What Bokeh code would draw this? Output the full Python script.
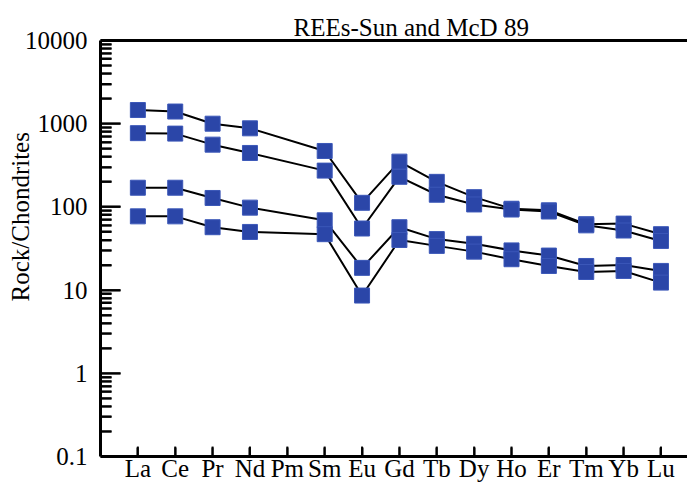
from bokeh.plotting import figure
from bokeh.models import (FixedTicker, CustomJSTickFormatter, LinearAxis, Title,
                          ColumnDataSource, Range1d)
from bokeh.embed import file_html
from bokeh.resources import INLINE

# ---- data ----
elements = ["La", "Ce", "Pr", "Nd", "Pm", "Sm", "Eu", "Gd", "Tb", "Dy", "Ho", "Er", "Tm", "Yb", "Lu"]
measured = ["La", "Ce", "Pr", "Nd", "Sm", "Eu", "Gd", "Tb", "Dy", "Ho", "Er", "Tm", "Yb", "Lu"]

sample_1 = [1460, 1400, 1000, 880, 470, 112, 350, 200, 131, 95, 91, 62, 63, 47]
sample_2 = [770, 760, 560, 445, 273, 55, 230, 140, 107, 93, 88, 60, 52, 39]
sample_3 = [170, 170, 128, 98, 69, 18.5, 57, 41, 36, 30, 26, 19.5, 20, 17]
sample_4 = [77, 77, 57, 50, 47, 8.6, 40, 34, 29, 23.5, 19.5, 16.5, 17, 12.3]
samples = [sample_1, sample_2, sample_3, sample_4]

y_ticks = [0.1, 1, 10, 100, 1000, 10000]
y_minor = [k * 10 ** d for d in range(-1, 4) for k in range(2, 10)]
title_text = "REEs-Sun and McD 89"
y_title = "Rock/Chondrites"

FONT = "Liberation Serif"
MARK = "#2B46A8"

# ---- layout constants ----
W, H = 687, 484
LEFT, TOP, BOTTOM = 100, 40, 26
FRAME_W, FRAME_H = W - LEFT, H - TOP - BOTTOM
X0, X1 = 0, 15.71
Y0, Y1 = 0.1, 10000

x_pos = [elements.index(e) + 1 for e in measured]
x_ticks = list(range(1, len(elements) + 1))

px_x = FRAME_W / (X1 - X0)                  # px per x unit
dec_px = 5 / FRAME_H                        # log10 span per px


def xpx(n):            # n pixels to the right of the left frame edge, in data units
    return X0 + n / px_x


def ypx(n):            # n pixels above the bottom frame edge, in data units
    return Y0 * 10 ** (n * dec_px)


y_major_in = [v for v in y_ticks if Y0 < v < Y1]
y_minor_in = [v for v in y_minor if Y0 < v < Y1]

p = figure(width=W, height=H, y_axis_type="log",
           x_range=Range1d(X0, X1), y_range=Range1d(Y0, Y1),
           output_backend="svg", toolbar_location=None,
           min_border_left=LEFT, min_border_right=0, min_border_top=TOP,
           min_border_bottom=BOTTOM)
p.outline_line_color = None
p.xgrid.visible = False
p.ygrid.visible = False
p.background_fill_color = "white"
p.border_fill_color = "white"

for s in samples:
    src = ColumnDataSource(dict(x=x_pos, y=s))
    p.line("x", "y", source=src, line_color="black", line_width=2)
for s in samples:
    src = ColumnDataSource(dict(x=x_pos, y=s))
    p.scatter("x", "y", source=src, marker="square", size=15,
              fill_color=MARK, line_color="#3B57B8", line_width=1)

# inward tick marks, drawn on top of everything
tick_sets = [
    (dict(x0=[xpx(1)] * len(y_major_in), y0=y_major_in,
          x1=[xpx(20)] * len(y_major_in), y1=y_major_in)),
    (dict(x0=[xpx(1)] * len(y_minor_in), y0=y_minor_in,
          x1=[xpx(11)] * len(y_minor_in), y1=y_minor_in)),
    (dict(x0=x_ticks, y0=[ypx(1)] * len(x_ticks),
          x1=x_ticks, y1=[ypx(10)] * len(x_ticks))),
]
for d in tick_sets:
    p.segment(x0="x0", y0="y0", x1="x1", y1="y1", source=ColumnDataSource(d),
              line_color="black", line_width=2, level="overlay")

# x axis
xa = p.xaxis[0]
xa.ticker = FixedTicker(ticks=x_ticks)
xa.major_label_overrides = {i + 1: e for i, e in enumerate(elements)}
xa.major_tick_in = 9
xa.major_tick_out = 0
xa.major_tick_line_color = "black"
xa.major_tick_line_width = 2
xa.minor_tick_line_color = None
xa.axis_line_width = 3
xa.major_label_standoff = -2
xa.major_label_text_font = FONT
xa.major_label_text_font_size = "25px"
xa.major_label_text_color = "black"

# y axis
ya = p.yaxis[0]
ya.ticker = FixedTicker(ticks=y_ticks, minor_ticks=y_minor)
ya.formatter = CustomJSTickFormatter(code="return String(tick)")
ya.major_tick_in = 20
ya.major_tick_out = 0
ya.minor_tick_in = 11
ya.minor_tick_out = 0
ya.major_tick_line_color = "black"
ya.minor_tick_line_color = "black"
ya.major_tick_line_width = 2
ya.minor_tick_line_width = 2
ya.axis_line_width = 3
ya.major_label_standoff = 13
ya.major_label_text_font = FONT
ya.major_label_text_font_size = "25px"
ya.major_label_text_color = "black"

# top border line
top = LinearAxis(ticker=FixedTicker(ticks=[]), major_tick_line_color=None,
                 minor_tick_line_color=None, major_label_standoff=0,
                 major_tick_out=0, minor_tick_out=0, major_tick_in=0, minor_tick_in=0,
                 axis_line_width=3)
p.add_layout(top, "above")

p.add_layout(Title(text=title_text, align="left", offset=193, standoff=0,
                   text_font=FONT, text_font_size="25px", text_font_style="normal",
                   text_color="black"), "above")
p.add_layout(Title(text=y_title, align="left", offset=155, standoff=-24,
                   text_font=FONT, text_font_size="25px", text_font_style="normal",
                   text_color="black"), "left")

open("out.html", "w").write(file_html(p, INLINE))
